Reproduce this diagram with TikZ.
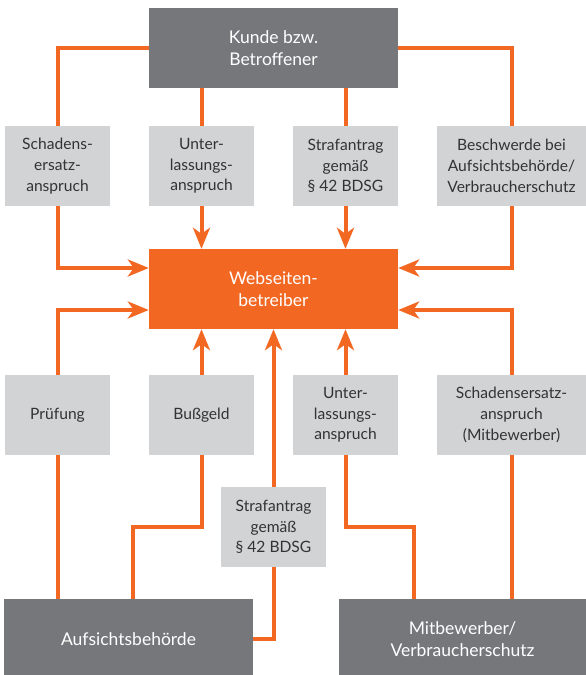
\documentclass[tikz,border=0pt]{standalone}
\usepackage{fontspec}
\setmainfont{Lato}
\usetikzlibrary{arrows.meta}

\definecolor{flow}{HTML}{F26722}
\definecolor{party}{HTML}{76777B}
\definecolor{claim}{HTML}{D1D3D4}
\definecolor{ink}{HTML}{333333}

\tikzset{
  partybox/.style={fill=party, text=white, inner sep=0pt, align=center,
    font=\fontsize{17.5}{22.5}\selectfont, minimum height=80pt},
  centerbox/.style={fill=flow, text=white, inner sep=0pt, align=center,
    font=\fontsize{17.5}{22.5}\selectfont, minimum width=249pt, minimum height=80pt},
  claimbox/.style={fill=claim, text=ink, inner sep=0pt, align=center,
    font=\fontsize{15.6}{20.7}\selectfont, minimum height=80pt, minimum width=105pt},
  link/.style={draw=flow, line width=4pt},
  flowarrow/.style={link, -{Stealth[length=21pt, width=17pt, inset=6pt]}}
}

\begin{document}
\begin{tikzpicture}[x=1pt, y=-1pt]
  \clip (0,0) rectangle (586,675);
  \fill[white] (0,0) rectangle (586,675);

  % parties and the site operator
  \node[partybox, minimum width=249pt] (kunde) at (273.5,48) {Kunde bzw.\\Betroffener};
  \node[centerbox] (web) at (273.5,289) {Webseiten-\\betreiber};
  \node[partybox, minimum width=249pt] (auf) at (128.5,639) {Aufsichtsbehörde};
  \node[partybox, minimum width=247pt] (mit) at (462.5,639) {Mitbewerber/\\Verbraucherschutz};

  % claims of the customer
  \node[claimbox] (t1) at (57.5,166) {Schadens-\\ersatz-\\anspruch};
  \node[claimbox] (t2) at (201.5,166) {Unter-\\lassungs-\\anspruch};
  \node[claimbox] (t3) at (345.5,166) {Strafantrag\\gemäß\\§ 42 BDSG};
  \node[claimbox, minimum width=149pt] (t4) at (511.5,166) {Beschwerde bei\\Aufsichtsbehörde/\\Verbraucherschutz};

  % measures of authority and competitors
  \node[claimbox] (b1) at (57.5,415) {Prüfung};
  \node[claimbox] (b2) at (201.5,415) {Bußgeld};
  \node[claimbox] (b3) at (345.5,415) {Unter-\\lassungs-\\anspruch};
  \node[claimbox, minimum width=149pt] (b4) at (511.5,415) {Schadensersatz-\\anspruch\\(Mitbewerber)};
  \node[claimbox] (s) at (273.5,527) {Strafantrag\\gemäß\\§ 42 BDSG};

  % customer -> operator
  \draw[link] (kunde.west) -| (t1.north);
  \draw[flowarrow] (t1.south) |- ([yshift=21pt]web.west);
  \draw[link] (t2.north |- kunde.south) -- (t2.north);
  \draw[flowarrow] (t2.south) -- (t2.south |- web.north);
  \draw[link] (t3.north |- kunde.south) -- (t3.north);
  \draw[flowarrow] (t3.south) -- (t3.south |- web.north);
  \draw[link] (kunde.east) -| (t4.north);
  \draw[flowarrow] (t4.south) |- ([yshift=21pt]web.east);

  % authority -> operator
  \draw[link] (b1.south |- auf.north) -- (b1.south);
  \draw[flowarrow] (b1.north) |- ([yshift=-21pt]web.west);
  \draw[link] ([xshift=4.5pt]auf.north) |- (b2.south |- s.center) -- (b2.south);
  \draw[flowarrow] (b2.north) -- (b2.north |- web.south);
  \draw[link] (auf.east) -| (s.south);
  \draw[flowarrow] (s.north) -- (s.north |- web.south);

  % competitors / consumer protection -> operator
  \draw[link] ([xshift=-48.5pt]mit.north) |- (b3.south |- s.center) -- (b3.south);
  \draw[flowarrow] (b3.north) -- (b3.north |- web.south);
  \draw[link] (b4.south |- mit.north) -- (b4.south);
  \draw[flowarrow] (b4.north) |- ([yshift=-21pt]web.east);
\end{tikzpicture}
\end{document}
